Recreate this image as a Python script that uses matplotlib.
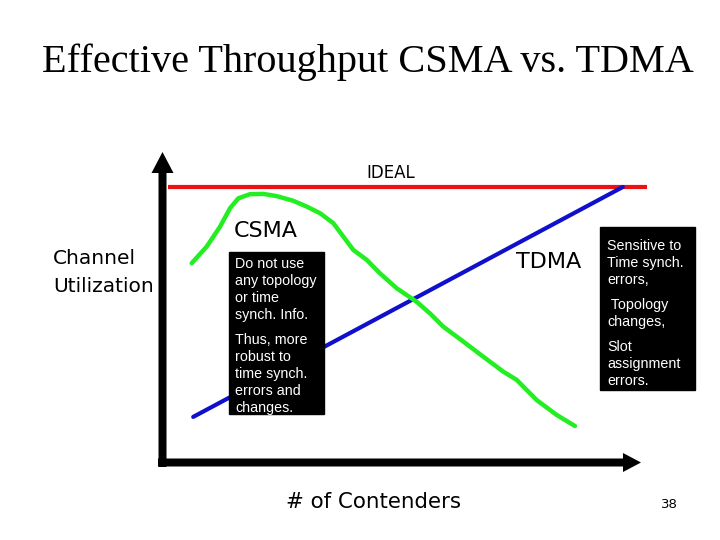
import matplotlib.pyplot as plt
from matplotlib.patches import Rectangle

# utilization (y) vs. number of contenders (x)
ideal_x = [1.2, 101.0]
ideal_y = [1.0, 1.0]

tdma_x = [6.5, 96.0]
tdma_y = [0.167, 1.0]

csma_x = [6.19, 9.31, 12.08, 14.17, 15.9, 18.33, 21.1, 23.9, 27.35, 30.15,
          32.92, 35.69, 39.85, 42.65, 45.42, 48.9, 53.06, 55.83, 58.6, 62.77,
          66.94, 71.1, 73.9, 78.06, 82.23, 86.04]
csma_y = [0.724, 0.784, 0.856, 0.923, 0.959, 0.974, 0.975, 0.967, 0.950, 0.929,
          0.905, 0.869, 0.772, 0.736, 0.687, 0.633, 0.584, 0.542, 0.494, 0.440,
          0.385, 0.331, 0.301, 0.228, 0.174, 0.134]

box1_lines = ["Do not use", "any topology", "or time", "synch. Info.", None,
              "Thus, more", "robust to", "time synch.", "errors and", "changes."]
box2_lines = ["Sensitive to", "Time synch.", "errors,", None, " Topology",
              "changes,", None, "Slot", "assignment", "errors."]

fig = plt.figure(figsize=(7.2, 5.4), dpi=100)

# data axes, placed so that origin sits on the drawn axis corner
ax = fig.add_axes([0, 0, 1, 1], zorder=1)
ax.set_xlim(-162 / 4.8, (720 - 162) / 4.8)
ax.set_ylim((463 - 540) / 276, 463 / 276)
ax.axis("off")

ax.plot(ideal_x, ideal_y, color="#ee1111", lw=3, solid_capstyle="butt")
ax.plot(tdma_x, tdma_y, color="#1010cc", lw=3, solid_capstyle="round")
ax.plot(csma_x, csma_y, color="#22ee22", lw=3.2, solid_capstyle="round",
        solid_joinstyle="round")

# layout layer in pixel coordinates
lay = fig.add_axes([0, 0, 1, 1], zorder=2)
lay.set_xlim(0, 720)
lay.set_ylim(540, 0)
lay.axis("off")
lay.patch.set_alpha(0)

# axis arrows
lay.arrow(162.5, 467, 0, -315, width=8, head_width=22, head_length=21,
          length_includes_head=True, color="black", lw=0)
lay.arrow(158, 462.5, 483, 0, width=8, head_width=19, head_length=18,
          length_includes_head=True, color="black", lw=0)

lay.text(368, 62, "Effective Throughput CSMA vs. TDMA", family="Liberation Serif",
         fontsize=29, ha="center", va="center")
lay.text(391, 173, "IDEAL", fontsize=12, ha="center", va="center")
lay.text(53, 259, "Channel", fontsize=14.5, ha="left", va="center")
lay.text(53, 287, "Utilization", fontsize=14.5, ha="left", va="center")
lay.text(234, 231, "CSMA", fontsize=16, ha="left", va="center")
lay.text(516, 262, "TDMA", fontsize=16, ha="left", va="center")
lay.text(373, 502, "# of Contenders", fontsize=15.4, ha="center", va="center")
lay.text(669, 504, "38", fontsize=9.5, ha="center", va="center")


def text_box(x0, y0, w, h, lines, tx, ty):
    lay.add_patch(Rectangle((x0, y0), w, h, color="black"))
    y = ty
    for line in lines:
        if line is None:
            y += 8
            continue
        lay.text(tx, y, line, color="white", fontsize=10.3, ha="left", va="center",
                 family="Liberation Sans")
        y += 17


text_box(229, 252, 95, 162, box1_lines, 235, 264)
text_box(600, 227, 95, 163, box2_lines, 607, 246)

fig.savefig("out.png", dpi=100)
